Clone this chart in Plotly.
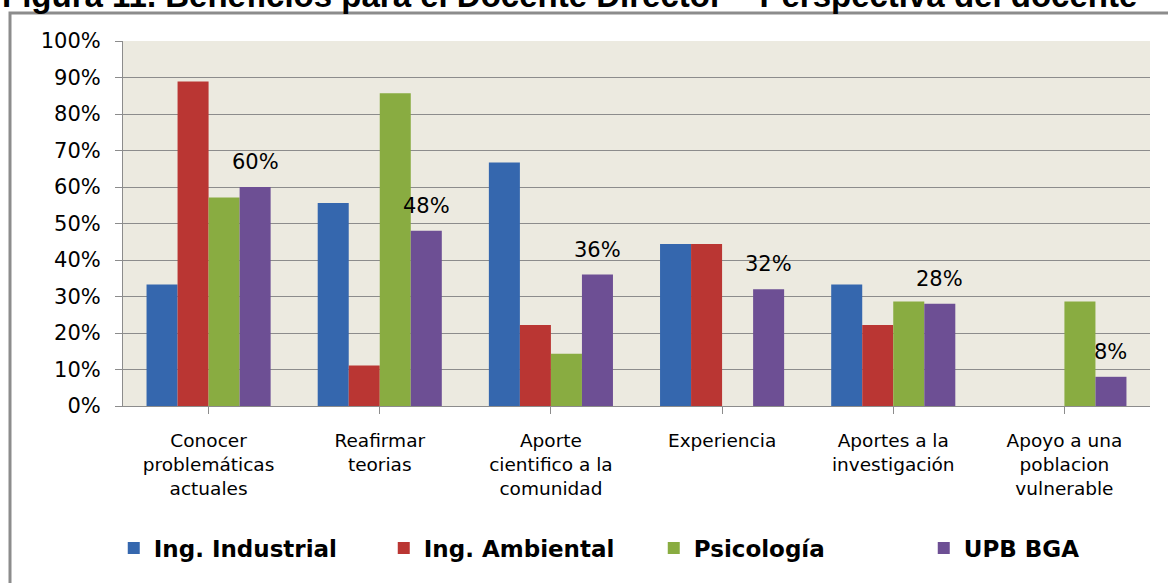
import plotly.graph_objects as go

# categories (x tick labels) and series values
categories = [
    'Conocer<br>problemáticas<br>actuales',
    'Reafirmar<br>teorias',
    'Aporte<br>cientifico a la<br>comunidad',
    'Experiencia',
    'Aportes a la<br>investigación',
    'Apoyo a una<br>poblacion<br>vulnerable',
]
ing_industrial = [0.333, 0.556, 0.667, 0.444, 0.333, 0.0]
ing_ambiental = [0.889, 0.111, 0.222, 0.444, 0.222, 0.0]
psicologia = [0.571, 0.857, 0.143, 0.0, 0.286, 0.286]
upb_bga = [0.60, 0.48, 0.36, 0.32, 0.28, 0.08]

SERIES = [
    ('Ing. Industrial', ing_industrial, '#3567AE'),
    ('Ing. Ambiental', ing_ambiental, '#BA3633'),
    ('Psicología', psicologia, '#89AC41'),
    ('UPB BGA', upb_bga, '#6D4F94'),
]

W, H = 1168, 583
L, R, T, B = 123, 18, 41, 177
PH = H - T - B
PW = W - L - R
BARGAP = 0.275

TITLE = 'Figura 11. Beneficios para el Docente Director – Perspectiva del docente'
FONT = 'DejaVu Sans, Verdana, sans-serif'

fig = go.Figure()
for name, vals, color in SERIES:
    fig.add_trace(go.Bar(x=list(range(len(categories))), y=vals, name=name,
                         marker=dict(color=color, line=dict(width=0))))

# data labels only for the UPB BGA series, sitting a bit above the bar
bar_w = (1 - BARGAP) / len(SERIES)
offset = 1.5 * bar_w
for i, v in enumerate(upb_bga):
    fig.add_annotation(x=i + offset, y=v, xref='x', yref='y', text=f'{round(v * 100)}%',
                       showarrow=False, yanchor='bottom', yshift=11,
                       font=dict(family=FONT, size=21, color='#000000'))

# clipped figure caption at the very top
fig.add_annotation(x=-L / PW, y=1 + (T + 5) / PH, xref='paper', yref='paper', text=f'<b>{TITLE}</b>',
                   showarrow=False, xanchor='left', yanchor='middle',
                   font=dict(family='Liberation Sans, Arial, sans-serif', size=33, color='#000000'))

# outer chart frame
fig.add_shape(type='rect', xref='paper', yref='paper',
              x0=-(L - 10) / PW, x1=1 + (R + 10) / PW, y0=-(B + 10) / PH, y1=1 + (T - 13) / PH,
              line=dict(color='#8C8C8C', width=3), fillcolor='rgba(0,0,0,0)', layer='below')

fig.update_layout(
    width=W, height=H,
    margin=dict(l=L, r=R, t=T, b=B, autoexpand=False),
    barmode='group', bargap=BARGAP, bargroupgap=0,
    paper_bgcolor='#FFFFFF', plot_bgcolor='#ECEAE0',
    font=dict(family=FONT, size=18, color='#000000'),
    showlegend=True,
    legend=dict(orientation='h', x=-0.009, xanchor='left', y=-0.389, yanchor='middle',
                font=dict(family=FONT, size=23, color='#000000', weight='bold'),
                itemwidth=30, traceorder='normal', entrywidth=225, entrywidthmode='pixels'),
)
fig.update_xaxes(
    tickmode='array', tickvals=list(range(len(categories))), ticktext=categories,
    range=[-0.5, len(categories) - 0.5],
    showline=True, linecolor='#8C8C8C', linewidth=1,
    ticks='outside', ticklen=7, tickcolor='#8C8C8C', tickson='boundaries',
    showgrid=False, tickfont=dict(family=FONT, size=18.5, color='#000000'),
    ticklabelstandoff=11, tickangle=0, automargin=False,
)
fig.update_yaxes(
    range=[0, 1], dtick=0.1, tickformat='.0%',
    showline=True, linecolor='#8C8C8C', linewidth=1,
    ticks='outside', ticklen=7, tickcolor='#8C8C8C',
    showgrid=True, gridcolor='#8C8C8C', gridwidth=1, zeroline=False,
    tickfont=dict(family=FONT, size=21, color='#000000'),
    ticklabelstandoff=10, automargin=False,
)

# drop the default page margin so the figure sits at the window's top-left corner
fig.write_html('out.html', config={'displayModeBar': False},
               post_script="document.body.style.margin='0';")
